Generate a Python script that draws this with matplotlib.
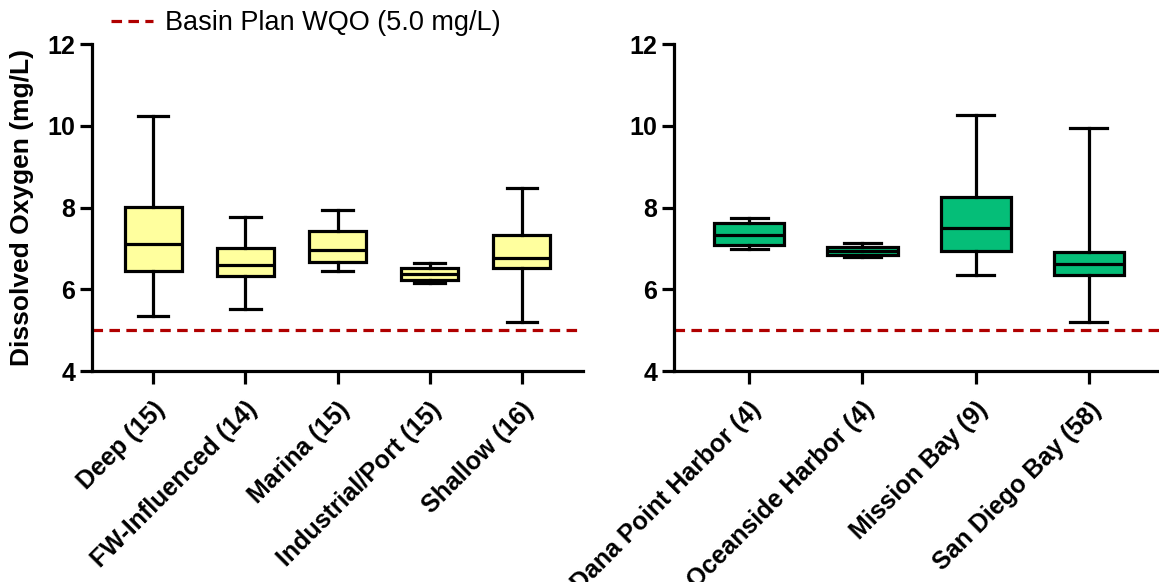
import matplotlib
matplotlib.use("Agg")
import matplotlib.pyplot as plt

plt.rcParams['font.family'] = ['Liberation Sans', 'DejaVu Sans']

# left panel: habitat types
habitats = ["Deep (15)", "FW-Influenced (14)", "Marina (15)", "Industrial/Port (15)", "Shallow (16)"]
hab_low = [5.34, 5.52, 6.44, 6.16, 5.19]
hab_q1 = [6.44, 6.32, 6.66, 6.23, 6.52]
hab_med = [7.12, 6.59, 6.97, 6.38, 6.77]
hab_q3 = [8.02, 7.00, 7.42, 6.51, 7.34]
hab_high = [10.24, 7.76, 7.95, 6.65, 8.49]

# right panel: embayments
bays = ["Dana Point Harbor (4)", "Oceanside Harbor (4)", "Mission Bay (9)", "San Diego Bay (58)"]
bay_low = [6.99, 6.79, 6.35, 5.20]
bay_q1 = [7.08, 6.84, 6.95, 6.35]
bay_med = [7.32, 6.94, 7.51, 6.61]
bay_q3 = [7.63, 7.04, 8.26, 6.91]
bay_high = [7.74, 7.14, 10.26, 9.96]

wqo = 5.0
wqo_label = "Basin Plan WQO (5.0 mg/L)"

LW = 2.3
RED = "#B00000"


def make_stats(labels, low, q1, med, q3, high):
    stats = []
    for i in range(len(labels)):
        stats.append(dict(label=labels[i], whislo=low[i], q1=q1[i], med=med[i],
                          q3=q3[i], whishi=high[i], fliers=[]))
    return stats


def draw_panel(ax, stats, color, xmax):
    pos = list(range(len(stats)))
    ax.bxp(stats, positions=pos, widths=0.62, patch_artist=True,
           showfliers=False, capwidths=0.33,
           boxprops=dict(facecolor=color, edgecolor="black", linewidth=LW),
           medianprops=dict(color="black", linewidth=LW),
           whiskerprops=dict(color="black", linewidth=LW),
           capprops=dict(color="black", linewidth=LW))
    line = ax.axhline(wqo, color=RED, linestyle=(0, (3.3, 2.0)), linewidth=LW,
                      label=wqo_label, zorder=1)
    ax.set_xlim(-0.665, xmax)
    ax.set_ylim(4, 12)
    ax.set_yticks([4, 6, 8, 10, 12])
    ax.spines['top'].set_visible(False)
    ax.spines['right'].set_visible(False)
    for s in ['left', 'bottom']:
        ax.spines[s].set_linewidth(LW)
    ax.tick_params(width=LW, length=9, labelsize=18, pad=3)
    ax.tick_params(axis='x', pad=10)
    for t in ax.get_yticklabels():
        t.set_fontweight('bold')
    ax.set_xticks(pos)
    ax.set_xticklabels([s['label'] for s in stats], rotation=45, ha='right',
                       rotation_mode='anchor', fontweight='bold', fontsize=18)
    return line


fig = plt.figure(figsize=(11.59, 5.82), dpi=100)
ax1 = fig.add_axes([0.0794, 0.3625, 0.4236, 0.5615])
ax2 = fig.add_axes([0.5815, 0.3625, 0.4185, 0.5615])

line = draw_panel(ax1, make_stats(habitats, hab_low, hab_q1, hab_med, hab_q3, hab_high),
                  "#FFFF9E", 4.665)
draw_panel(ax2, make_stats(bays, bay_low, bay_q1, bay_med, bay_q3, bay_high),
           "#05BE78", 3.62)

ax1.set_ylabel("Dissolved Oxygen (mg/L)", fontsize=19, fontweight='bold', labelpad=10)

fig.legend(handles=[line], loc='center left', bbox_to_anchor=(0.096, 0.96),
           frameon=False, fontsize=19.5, handlelength=1.55, handletextpad=0.45,
           borderpad=0, borderaxespad=0)

fig.savefig("out.png", dpi=100)
